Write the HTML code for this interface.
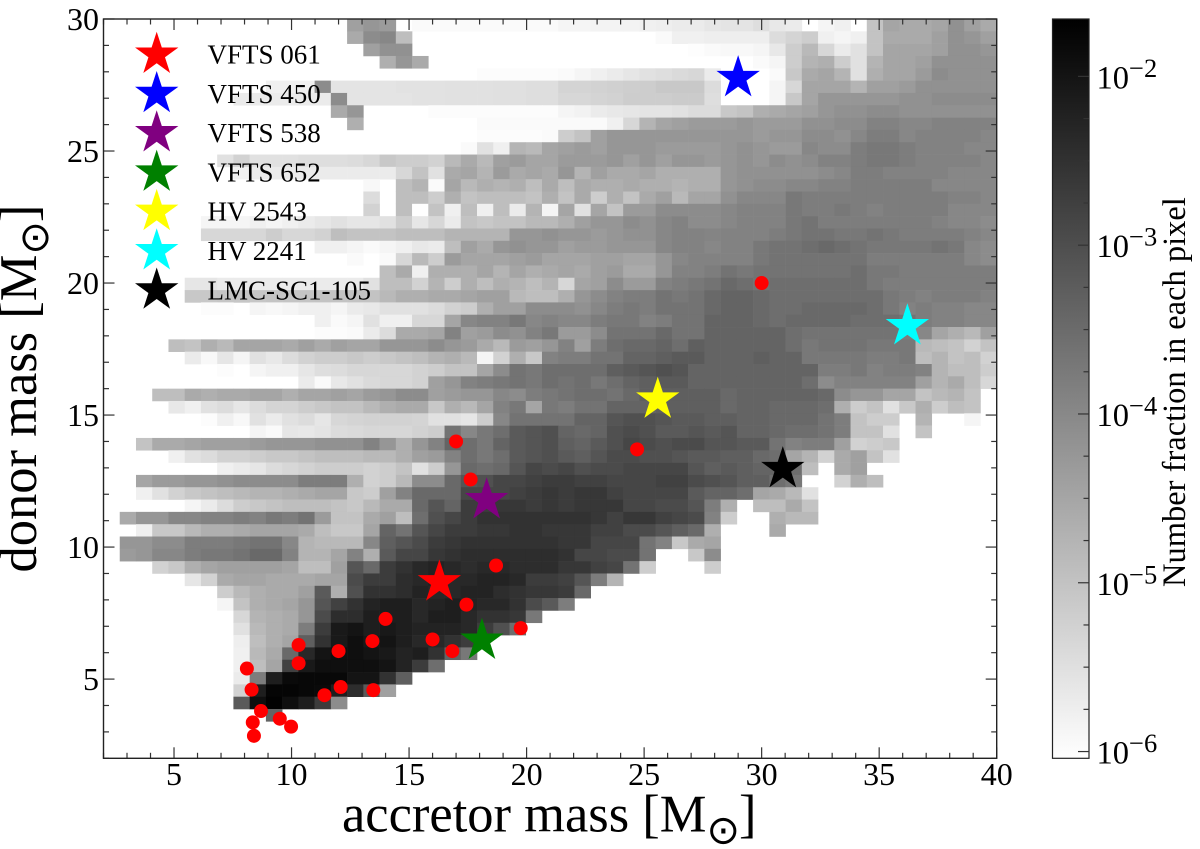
<!DOCTYPE html>
<html lang="en">
<head>
<meta charset="utf-8">
<title>Donor mass versus accretor mass</title>
<style>
html,body{margin:0;padding:0;background:#fff;}
svg{display:block;font-family:"Liberation Serif","DejaVu Serif",serif;}
</style>
</head>
<body>
<svg id="chart" xmlns="http://www.w3.org/2000/svg" width="1200" height="849" viewBox="0 0 1200 849">
  <defs>
    <linearGradient id="cbar-gradient" x1="0" y1="0" x2="0" y2="1">
      <stop offset="0" stop-color="#000"/>
      <stop offset="1" stop-color="#fff"/>
    </linearGradient>
  </defs>
  <g id="heatmap"></g>
  <g id="points"></g>
  <g id="stars"></g>
  <g id="legend"></g>
  <g id="axes"></g>
  <rect x="103.5" y="19" width="893.2" height="739.3" fill="none" stroke="#222" stroke-width="1.4"/>
  <text x="342" y="831.5" font-size="52.5" fill="#000">accretor mass [M<tspan dy="12" font-size="40" font-family="DejaVu Sans">⊙</tspan><tspan dy="-12" dx="-1">]</tspan></text>
  <text transform="translate(36,572.5) rotate(-90)" font-size="52.5" fill="#000">donor mass [M<tspan dy="12" font-size="40" font-family="DejaVu Sans">⊙</tspan><tspan dy="-12" dx="-1">]</tspan></text>
  <rect x="1052.5" y="19" width="36.5" height="739.3" fill="url(#cbar-gradient)" stroke="#222" stroke-width="1.2"/>
  <g id="cbar-axis"></g>
  <text transform="translate(1185,587) rotate(-90)" font-size="32.5" fill="#000">Number fraction in each pixel</text>
</svg>
<script>
const _ = null;
/* Heatmap readings: position on the log colour bar per bin (0 = top, 255 = bottom), top row = donor mass 30. */
const densityLevels = [
[_,_,_,_,_,_,_,_,_,_,_,_,_,_,_,160,150,155,_,250,250,250,250,250,250,250,250,250,245,245,243,243,243,240,238,235,235,230,228,228,222,232,235,_,245,240,_,195,165,170,170,165,145,160,170],
[_,_,_,_,_,_,_,_,_,_,_,_,_,_,_,170,140,135,190,_,_,_,_,_,_,_,_,_,_,_,_,_,_,_,250,240,240,238,238,238,238,220,212,205,240,245,240,195,170,170,170,160,145,150,160],
[_,_,_,_,_,_,_,_,_,_,_,_,_,_,_,_,160,145,145,_,_,_,_,_,_,_,_,_,_,_,_,_,_,_,_,_,253,250,248,248,245,232,205,185,215,235,225,195,165,165,165,160,145,145,150],
[_,_,_,_,_,_,_,_,_,_,_,_,_,_,_,_,_,175,150,170,_,_,_,_,_,_,_,_,_,_,_,_,_,_,_,_,_,_,_,_,250,245,205,180,175,205,225,180,165,165,160,145,145,145,145],
[_,_,_,_,_,_,_,_,_,_,_,_,_,_,_,_,_,_,_,_,_,_,_,252,252,252,252,252,250,245,240,235,230,225,222,218,215,235,_,_,_,250,200,170,165,180,225,175,165,165,155,140,145,145,145],
[_,_,_,_,_,_,_,_,_,_,240,240,240,140,228,228,228,228,226,226,226,225,225,225,224,224,222,222,212,212,210,208,206,205,200,200,200,220,_,_,_,245,215,165,165,165,180,160,160,155,145,145,145,145,145],
[_,_,_,_,_,_,_,_,235,235,235,235,235,235,140,228,228,228,228,226,226,225,225,225,224,224,222,222,215,215,212,210,205,205,205,203,203,222,_,_,_,245,200,165,150,150,150,150,150,145,145,140,140,140,140],
[_,_,_,_,_,_,_,_,_,_,_,_,_,_,170,150,_,_,_,_,252,252,252,252,252,252,252,252,245,242,235,232,230,228,228,225,220,220,200,195,175,170,165,160,150,145,145,140,140,145,145,145,145,145,145],
[_,_,_,_,_,_,_,_,_,_,_,_,_,_,_,175,_,_,_,_,_,_,_,250,250,250,250,250,250,250,250,240,215,180,165,160,155,155,155,150,155,155,155,145,145,140,140,130,130,135,135,130,130,130,130],
[_,_,_,_,_,_,_,_,_,_,_,_,_,_,_,_,_,_,_,_,_,_,_,252,252,252,252,250,205,195,160,150,150,150,150,150,150,150,150,150,155,150,150,140,140,145,135,125,125,135,130,130,130,130,135],
[_,_,_,_,_,_,_,_,_,_,_,_,_,_,_,_,_,_,_,_,_,_,250,225,240,180,185,165,160,155,160,150,150,150,155,155,155,155,150,145,150,155,155,135,140,140,125,120,120,125,130,130,130,135,135],
[_,_,_,_,_,_,_,225,210,225,225,225,222,222,222,220,215,200,205,205,210,185,170,185,160,155,165,165,155,155,155,150,160,150,160,150,150,155,150,145,150,140,145,140,130,130,125,120,120,125,130,130,130,130,135],
[_,_,_,_,_,_,_,_,240,235,235,235,235,235,235,235,235,235,215,195,225,170,165,180,155,170,165,170,150,180,160,170,170,165,175,175,175,175,150,145,145,145,145,145,140,135,125,125,130,130,130,130,135,135,135],
[_,_,_,_,_,_,_,_,_,_,_,_,_,_,_,_,248,_,190,180,250,165,185,175,180,175,190,170,190,170,175,175,170,175,175,180,175,175,150,145,140,140,135,135,130,130,125,125,125,125,125,135,135,135,135],
[_,_,_,_,_,_,_,_,_,_,_,_,_,_,_,_,220,_,190,190,205,175,195,190,190,190,195,175,195,170,205,175,195,170,160,185,165,165,145,135,135,135,120,125,125,125,125,125,125,125,125,125,130,130,135],
[_,_,_,_,_,_,_,_,_,_,_,_,_,_,_,_,210,_,190,254,195,240,190,240,190,235,180,245,165,225,165,195,155,155,140,140,140,140,135,130,130,130,120,125,125,120,125,130,125,125,125,125,135,135,135],
[_,_,_,_,_,_,245,245,245,240,245,240,235,230,225,230,230,225,205,230,215,235,195,200,195,195,185,185,175,160,150,150,140,145,135,130,140,140,135,130,130,130,120,115,125,125,125,125,125,125,125,130,135,135,140],
[_,_,_,_,_,_,215,215,215,215,205,215,215,210,190,195,195,195,190,190,190,180,180,180,180,150,150,145,150,150,155,150,145,145,135,130,130,132,130,130,130,125,120,115,115,120,120,115,120,125,125,125,125,130,135],
[_,_,_,_,_,_,_,_,_,_,_,_,_,240,240,245,250,245,240,232,235,190,160,170,150,145,150,150,160,155,155,150,150,150,135,130,130,135,130,130,120,115,115,110,105,110,115,120,120,120,120,115,120,135,140],
[_,_,_,_,_,_,_,_,_,_,_,_,_,_,_,250,_,250,215,185,205,155,165,165,165,160,155,165,165,165,160,160,165,165,150,135,130,130,130,130,120,115,115,115,115,115,115,125,125,125,125,125,125,135,140],
[_,_,_,_,_,_,_,_,_,_,_,_,_,_,_,_,_,190,170,240,175,175,175,165,180,165,175,170,165,170,160,155,170,170,150,130,130,125,115,120,115,115,115,115,115,115,110,120,120,125,125,125,125,125,125],
[_,_,_,_,_,230,230,235,235,235,235,235,235,235,235,235,225,190,190,210,180,205,175,190,175,180,190,180,215,165,160,140,155,155,130,125,120,115,105,110,115,110,110,110,110,110,110,120,125,125,125,125,125,125,125],
[_,_,_,_,_,200,200,198,198,198,196,196,196,195,195,195,195,185,175,175,170,170,165,160,160,185,190,190,175,150,140,130,125,125,115,120,115,105,100,100,105,110,110,110,110,110,110,110,120,125,130,125,125,125,130],
[_,_,_,_,_,_,252,252,_,245,248,245,240,240,245,235,232,225,225,225,220,210,205,175,160,160,140,140,140,145,135,125,120,125,115,115,115,105,100,100,105,110,110,105,105,105,105,110,120,130,125,130,130,135,135],
[_,_,_,_,_,_,_,_,_,_,_,_,_,240,250,245,225,240,240,215,215,165,135,130,130,120,135,130,135,135,125,120,120,130,125,115,115,100,100,100,105,110,105,105,105,105,110,110,110,115,125,130,130,135,135],
[_,_,_,_,_,_,_,_,_,_,_,_,_,252,252,250,235,220,170,170,165,130,160,155,140,145,130,120,155,155,140,115,115,115,105,115,115,100,100,100,100,100,110,115,115,115,115,115,115,125,135,165,175,185,160],
[_,_,_,_,190,195,175,185,165,165,165,170,160,170,160,165,165,150,150,150,140,150,155,170,185,155,160,150,130,160,125,110,105,105,100,110,95,100,100,100,100,100,110,120,115,115,115,120,120,120,185,190,195,210,195],
[_,_,_,_,_,235,248,230,245,225,232,220,210,205,205,200,205,200,195,190,180,175,185,245,210,175,200,130,125,125,115,115,100,100,95,90,90,100,100,100,95,100,100,120,120,120,120,125,125,120,190,180,195,190,210],
[_,_,_,_,_,_,_,252,_,245,240,240,230,222,220,215,215,215,215,210,205,195,195,165,140,115,120,110,110,110,110,95,90,85,80,85,100,100,100,100,100,100,100,100,125,125,120,130,125,125,130,180,190,190,205],
[_,_,_,_,_,_,_,_,_,_,_,_,235,250,232,225,218,215,215,210,160,150,130,125,120,115,120,110,115,110,120,110,100,95,90,90,100,100,100,100,100,100,100,110,140,130,130,130,130,130,160,180,170,190,215],
[_,_,_,190,190,170,175,170,170,165,165,175,165,165,160,165,155,150,140,140,160,155,150,150,135,140,125,120,115,110,110,115,105,95,95,95,95,95,105,100,100,100,100,100,105,140,150,150,165,165,195,185,180,195],
[_,_,_,_,232,240,225,220,230,220,212,212,205,200,195,195,185,175,170,170,200,175,185,165,130,120,165,120,125,115,115,100,100,100,95,95,95,95,105,100,100,105,105,105,110,175,205,195,225,200,175,205,190,195],
[_,_,_,_,_,_,252,240,248,225,235,225,220,230,215,212,210,210,210,212,225,225,230,205,135,115,115,115,115,100,100,85,80,80,85,90,90,95,95,100,100,105,105,105,115,125,195,205,205,_,180,_,_,245],
[_,_,_,_,_,_,_,_,_,245,250,230,232,228,220,218,215,215,215,210,205,115,135,120,110,90,85,80,100,105,100,80,75,80,90,90,85,90,85,100,100,105,110,110,115,125,195,195,225,_,195],
[_,_,195,170,170,165,160,160,160,155,150,150,150,145,145,145,130,150,175,150,130,100,110,120,100,90,85,80,95,100,90,80,70,75,80,75,75,85,85,90,90,115,130,125,125,160,210,205,200],
[_,_,_,_,240,225,220,210,210,205,200,200,195,190,190,190,185,185,175,160,155,130,110,120,110,90,85,80,90,95,85,75,75,80,80,85,90,90,95,95,105,110,165,180,210,170,160,195,225],
[_,_,_,_,_,_,_,240,235,230,220,215,210,205,205,205,210,205,195,225,205,150,105,110,105,85,70,75,70,80,75,75,70,70,70,70,85,95,90,95,100,100,110,190,_,170,160,_],
[_,_,165,155,155,150,150,145,140,140,140,140,125,125,125,175,210,205,185,140,140,105,85,80,70,70,65,60,60,65,65,70,70,70,65,65,75,80,85,95,95,110,120,_,_,210,175,190],
[_,_,240,225,210,200,195,190,185,180,180,175,170,165,165,200,205,160,130,105,105,105,70,70,70,65,60,55,60,55,55,65,70,70,70,70,90,100,100,110,165,170,185,225],
[_,_,_,_,_,245,235,220,205,200,195,190,190,190,195,200,185,170,170,105,85,100,60,60,55,55,60,55,60,55,55,55,70,70,75,75,85,125,175,_,190,190,170,195],
[_,170,150,150,135,135,130,130,125,130,120,125,115,155,195,195,170,160,190,110,80,70,60,50,50,50,50,50,50,50,55,65,55,55,65,70,75,130,205,_,_,175,185,185],
[_,_,240,200,200,185,175,175,170,165,165,165,170,190,200,200,165,100,115,85,70,60,60,55,55,50,50,55,55,55,65,65,75,75,85,95,105,175,_,_,_,170],
[_,150,150,140,140,125,125,125,120,115,115,135,180,185,185,185,135,95,85,75,60,55,50,50,50,50,50,50,55,55,70,70,70,115,130,200,170,165],
[_,155,150,135,135,125,120,120,115,105,105,130,180,180,165,130,175,90,70,70,55,50,45,45,45,45,45,45,50,70,70,75,75,115,_,_,200,140],
[_,_,_,210,200,175,165,160,160,160,160,165,190,190,160,85,105,60,50,40,35,40,45,40,40,45,45,45,55,55,65,70,115,205,_,_,_,205],
[_,_,_,_,_,230,210,170,165,165,170,170,170,165,165,75,60,60,45,40,35,40,40,35,35,40,60,60,65,85,125,180],
[_,_,_,_,_,_,_,205,185,175,170,170,160,90,175,80,50,50,45,35,40,40,35,35,45,50,55,55,60,105],
[_,_,_,_,_,_,_,245,195,175,170,165,150,85,65,50,35,30,30,40,35,30,35,40,40,50,75,90,125],
[_,_,_,_,_,_,_,_,215,180,175,170,150,75,45,45,30,30,30,40,30,30,40,50,50,55,120],
[_,_,_,_,_,_,_,_,225,185,175,170,125,60,25,20,30,25,30,35,35,35,40,60,80,110],
[_,_,_,_,_,_,_,_,238,190,175,165,95,50,25,15,25,20,30,40,40,50,60],
[_,_,_,_,_,_,_,_,240,185,170,105,40,20,15,15,20,25,35,30,50,100,120],
[_,_,_,_,_,_,_,_,240,190,165,65,25,15,15,15,15,20,35,60,110],
[_,_,_,_,_,_,_,_,235,125,30,10,8,8,8,20,20,50,95],
[_,_,_,_,_,_,_,_,210,30,5,5,8,10,30,45,90,160],
[_,_,_,_,_,_,_,_,90,15,2,15,30,60,140],
[_,_,_,_,_,_,_,_,_,_,100],
[],[],[]
];
const pointAccretor = [17.0,17.62,18.7,17.44,14.0,19.75,13.44,16.0,16.84,12.0,10.3,10.3,8.1,8.3,12.09,13.48,11.4,8.7,9.5,8.35,9.98,8.4,30.0,24.7];
const pointDonor = [14.0,12.56,9.3,7.82,7.28,6.93,6.44,6.5,6.06,6.06,6.29,5.6,5.4,4.6,4.7,4.58,4.39,3.79,3.5,3.36,3.2,2.85,20.0,13.7];
const starNames = ["VFTS 061","VFTS 450","VFTS 538","VFTS 652","HV 2543","HV 2241","LMC-SC1-105"];
const starColors = ["#ff0000","#0000ff","#800080","#008000","#ffff00","#00ffff","#000000"];
const starAccretor = [16.29,29.0,18.3,18.1,25.58,36.2,30.9];
const starDonor = [8.67,27.77,11.78,6.46,15.59,18.37,12.96];
const xMajorTicks = [5,10,15,20,25,30,35,40];
const yMajorTicks = [5,10,15,20,25,30];
const colorbarExponents = [-2,-3,-4,-5,-6];

const NS = "http://www.w3.org/2000/svg";
const X0 = 103.5, X1 = 996.7, Y0 = 19, Y1 = 758.3;
const xMin = 2, xMax = 40, yMin = 2, yMax = 30;
const nCols = 55, nRows = 60;
const logTop = -1.66, logBottom = -6.04;
function xScale(v){ return X0 + (v - xMin) * (X1 - X0) / (xMax - xMin); }
function yScale(v){ return Y0 + (yMax - v) * (Y1 - Y0) / (yMax - yMin); }
function logScale(l){ return Y0 + (logTop - l) * (Y1 - Y0) / (logTop - logBottom); }
function levelToLog(level){ return logTop + (logBottom - logTop) * level / 255; }
function shade(l){ const g = Math.round(255 * (logTop - l) / (logTop - logBottom)); return "rgb(" + g + "," + g + "," + g + ")"; }
function make(tag, attrs, parent){
  const el = document.createElementNS(NS, tag);
  for (const k in attrs) el.setAttribute(k, attrs[k]);
  parent.appendChild(el);
  return el;
}
function starPath(cx, cy, R){
  const pts = [];
  for (let i = 0; i < 10; i++){
    const r = i % 2 ? R * 0.382 : R;
    const a = -Math.PI / 2 + i * Math.PI / 5;
    pts.push((cx + r * Math.cos(a)).toFixed(2) + "," + (cy + r * Math.sin(a)).toFixed(2));
  }
  return pts.join(" ");
}

/* heatmap */
const heat = document.getElementById("heatmap");
const binW = (xMax - xMin) / nCols, binH = (yMax - yMin) / nRows;
densityLevels.forEach(function(row, r){
  row.forEach(function(level, c){
    if (level === null) return;
    const x = xScale(xMin + c * binW), x2 = xScale(xMin + (c + 1) * binW);
    const y = yScale(yMax - r * binH), y2 = yScale(yMax - (r + 1) * binH);
    const cell = make("rect", {x: x.toFixed(2), y: y.toFixed(2), width: (x2 - x + 0.3).toFixed(2), height: (y2 - y + 0.3).toFixed(2), fill: shade(levelToLog(level))}, heat);
    
    
  });
});

/* red points */
const ptsG = document.getElementById("points");
pointAccretor.forEach(function(a, i){
  const p = make("circle", {cx: xScale(a).toFixed(2), cy: yScale(pointDonor[i]).toFixed(2), r: 7, fill: "#ff0000"}, ptsG);
  
  
});

/* stars */
const starG = document.getElementById("stars");
starNames.forEach(function(name, i){
  const s = make("polygon", {points: starPath(xScale(starAccretor[i]), yScale(starDonor[i]), 22.8), fill: starColors[i]}, starG);
  
  
});

/* legend */
const legG = document.getElementById("legend");
starNames.forEach(function(name, i){
  const cy = 54.5 + i * 39.3;
  const m = make("polygon", {points: starPath(156.7, cy, 22.8), fill: starColors[i]}, legG);
  
  
  const t = make("text", {x: 207.5, y: cy + 9, "font-size": 27, fill: "#000"}, legG);
  
  
  t.textContent = name;
});

/* axes ticks */
const axG = document.getElementById("axes");
function tick(x1, y1, x2, y2, group){
  const l = make("line", {x1: x1, y1: y1, x2: x2, y2: y2, stroke: "#333", "stroke-width": 1.2}, group);
  
  
}
for (let v = xMin; v <= xMax; v++){
  const len = xMajorTicks.indexOf(v) >= 0 ? 11 : 5.5, x = xScale(v);
  tick(x, Y1, x, Y1 - len, axG);
  tick(x, Y0, x, Y0 + len, axG);
}
for (let v = yMin; v <= yMax; v++){
  const len = yMajorTicks.indexOf(v) >= 0 ? 11 : 5.5, y = yScale(v);
  tick(X0, y, X0 + len, y, axG);
  tick(X1, y, X1 - len, y, axG);
}
xMajorTicks.forEach(function(v){
  const t = make("text", {x: xScale(v), y: 785, "text-anchor": "middle", "font-size": 32, fill: "#000"}, axG);
  
  
  t.textContent = v;
});
yMajorTicks.forEach(function(v){
  const t = make("text", {x: 99, y: yScale(v) + 11, "text-anchor": "end", "font-size": 32, fill: "#000"}, axG);
  
  
  t.textContent = v;
});

/* colourbar ticks */
const cbG = document.getElementById("cbar-axis");
const CB1 = 1089;
colorbarExponents.forEach(function(e){
  const y = logScale(e);
  tick(CB1, y, CB1 - 11, y, cbG);
  if (e > -6){
    for (let q = 1; q < 4; q++){
      const yq = logScale(e - q * 0.25);
      tick(CB1, yq, CB1 - 5.5, yq, cbG);
    }
  }
  const t = make("text", {x: 1096.5, y: y + 12, "font-size": 32.5, fill: "#000"}, cbG);
  
  
  t.appendChild(document.createTextNode("10"));
  const sup = make("tspan", {dy: -11.5, "font-size": 26.5}, t);
  sup.textContent = "\u2212" + Math.abs(e);
});
</script>
</body>
</html>
